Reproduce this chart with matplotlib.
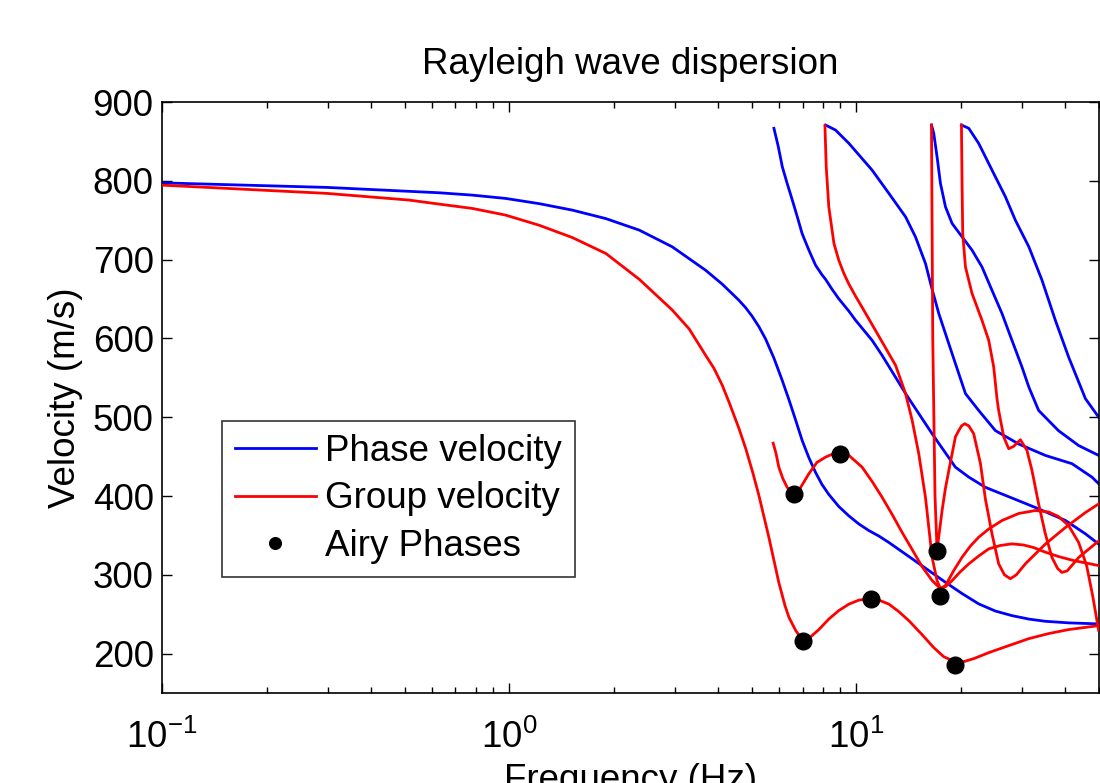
import matplotlib
matplotlib.use("Agg")
import matplotlib.pyplot as plt
from matplotlib.ticker import LogLocator, NullFormatter

plt.rcParams['font.family'] = ['Liberation Sans', 'DejaVu Sans']
plt.rcParams['mathtext.default'] = 'regular'

# ---- Phase velocity curves (Hz, m/s) ----
phase_f0 = [0.100, 0.299, 0.629, 0.784, 0.978, 1.22, 1.52, 1.90, 2.37, 2.95, 3.68, 4.11,
            4.59, 4.80, 5.01, 5.24, 5.48, 5.79, 6.12, 6.40, 6.69, 6.98, 7.30, 7.63, 7.96,
            8.33, 8.90, 9.52, 10.17, 10.86, 11.61, 12.41, 14.48, 18.06, 20.16, 22.51,
            25.15, 28.07, 31.4, 35.03, 40.87, 49.9]
phase_v0 = [797.4, 791.6, 784.8, 781.8, 777.6, 771, 762.8, 752, 737.4, 716.2, 686.5, 668.8,
            648.4, 638.9, 628.1, 614.9, 599.1, 574.9, 546.4, 521.8, 496, 470.6, 448.6, 429.9,
            414.7, 402, 386.7, 374.7, 364.5, 356.2, 349.2, 341.0, 320.3, 290.5, 276.2, 263.1,
            254.0, 248.2, 243.8, 241.0, 239.0, 237.7]

phase_f1 = [5.79, 5.96, 6.12, 6.32, 6.54, 6.76, 6.98, 7.30, 7.63, 7.96, 8.15, 8.51, 8.90,
            9.52, 9.95, 11.10, 11.86, 13.86, 16.53, 19.29, 21.08, 23.54, 29.35, 33.5, 40.0,
            45.7, 49.9]
phase_v1 = [866.6, 843.2, 817.8, 796.7, 775.5, 754.3, 733, 712, 692.9, 680.8, 675.1, 662.4,
            650.3, 634.5, 623, 597.6, 578.6, 530, 479, 436.6, 424, 411, 394, 383.7, 369,
            352, 339]

phase_f2 = [8.15, 8.71, 9.52, 11.10, 12.41, 13.86, 14.8, 15.82, 16.46, 17.28, 18.87, 20.62,
            22.51, 25.15, 29.35, 35.03, 41.8, 47.7, 49.9]
phase_v2 = [870.8, 864.4, 847.5, 813.6, 784, 754.3, 728.9, 695, 665.3, 631.5, 580.7, 530,
            508.6, 483, 466, 451.5, 441, 424, 415.6]

phase_f3 = [16.46, 16.71, 17.08, 17.47, 18.06, 18.87, 20.16, 21.54, 23.01, 24.59, 26.28,
            28.07, 30.0, 31.4, 33.5, 38.2, 43.7, 49.9]
phase_v3 = [870.8, 860.2, 830.5, 796.7, 767, 745.9, 728.9, 712, 690.7, 661, 631.5,
            597.6, 563.7, 538.2, 508.6, 483, 464, 451.5]

phase_f4 = [20.08, 21.08, 22.51, 24.59, 26.88, 28.71, 31.4, 34.25, 37.43, 40.87, 45.7, 49.9]
phase_v4 = [870.8, 866.6, 847.5, 813.6, 779.7, 750, 716.2, 674, 623, 576.4, 523.5, 500]

# ---- Group velocity curves (Hz, m/s) ----
group_f0 = [0.100, 0.299, 0.516, 0.629, 0.784, 0.978, 1.22, 1.52, 1.90, 2.37, 2.95, 3.30,
            3.68, 3.89, 4.11, 4.30, 4.59, 4.80, 5.03, 5.24, 5.60, 5.98, 6.23, 6.40, 6.69,
            7.02, 7.40, 7.80, 8.33, 8.90, 9.52, 10.17, 11.01, 11.61, 12.41, 13.25, 14.16,
            15.46, 16.71, 17.85, 19.2, 20.39, 21.78, 24.06, 27.47, 31.4, 35.8, 40.87, 49.9]
group_v0 = [794.5, 784, 775.5, 770.4, 764.9, 756.4, 743.6, 728, 707.7, 675, 636, 612,
            578.6, 562.0, 540.5, 518.9, 485.8, 460.4, 429.9, 400.7, 347.3, 290.2, 260.9, 245.7,
            229.2, 216.4, 221.6, 230.5, 243.8, 254.6, 262.8, 267.9, 269.8, 267.9, 262.8, 253.3,
            241.9, 224.1, 207.6, 196.1, 189.8, 189.8, 193.6, 201.2, 210.1, 219, 225.4, 230.5,
            235.5]

group_f1 = [5.76, 5.87, 5.98, 6.14, 6.32, 6.62, 6.83, 7.30, 7.70, 8.15, 8.50, 8.97, 9.52,
            10.39, 11.10, 11.86, 12.68, 13.55, 14.48, 15.46, 16.53, 17.47, 18.06, 18.87,
            19.94, 21.08, 22.51, 24.06, 26.0, 28.07, 30.34, 32.42, 34.64, 38.2, 42.25,
            46.68, 49.9]
group_v1 = [467, 454.1, 436.6, 422.3, 410.9, 402.9, 407.1, 428.3, 442.6, 449.3, 452.8, 453.7,
            451.5, 436.6, 418.5, 398.5, 376.6, 353.7, 332.1, 310.5, 292.7, 282.5, 284.9, 292.6,
            304, 313.9, 323.8, 332.9, 337.2, 339.3, 337.8, 334.6, 329.5, 323.2, 318.1,
            314.3, 311.7]

group_f2 = [8.12, 8.19, 8.33, 8.62, 8.90, 9.20, 9.52, 9.95, 10.51, 11.61, 12.97, 13.86,
            14.48, 15.13, 15.82, 16.17, 16.53, 17.08, 17.47, 18.06, 19.08, 20.16, 21.31,
            22.51, 24.06, 26.28, 29.35, 32.8, 35.8, 38.2, 40.87, 43.7, 46.06, 47.93, 49.9]
group_v2 = [870, 817.8, 767, 720.5, 699.3, 682.7, 668.8, 653.5, 635.7, 602.7, 565.9, 530,
            496, 453.6, 398, 360, 322, 292.6, 282.5, 286.4, 305.4, 322.3, 336.5,
            347.7, 358.1, 368.9, 377.8, 381.6, 379.7, 374.0, 362.5, 340.9, 311.7, 273.6, 229.2]

group_f3 = [16.46, 16.60, 16.85, 17.08, 17.66, 18.06, 18.46, 19.29, 19.72, 20.1, 20.52,
            21.08, 21.78, 22.78, 23.54, 24.59, 25.7, 26.7, 27.78, 28.9, 30.69, 35.03,
            40.0, 45.7, 49.9]
group_v3 = [870.8, 600, 400, 331, 381.6, 410, 432, 475, 483, 489, 491.7,
            489, 479, 441, 396, 352, 314, 300, 295, 300, 314, 339,
            360, 379, 390]

group_f4 = [20.08, 20.16, 20.25, 20.62, 21.54, 23.01, 24.06, 24.87, 25.42, 25.7, 26.58,
            27.47, 28.39, 29.69, 31.0, 32.06, 33.5, 35.03, 36.6, 38.0, 39.1, 40.5, 43.7, 49.9]
group_v4 = [870.8, 796.7, 733, 690.7, 657, 623, 597.6, 563.7, 523.5, 508.6, 475,
            460, 463, 471.4, 458, 432.4, 390, 352, 322, 308, 303, 305, 322, 343]

# ---- Airy phases ----
airy_f = [6.62, 8.97, 7.02, 11.0, 17.08, 17.47, 19.2]
airy_v = [402.8, 453.6, 216.4, 269.4, 330.8, 273.6, 186]

phase_f = [phase_f0, phase_f1, phase_f2, phase_f3, phase_f4]
phase_v = [phase_v0, phase_v1, phase_v2, phase_v3, phase_v4]
group_f = [group_f0, group_f1, group_f2, group_f3, group_f4]
group_v = [group_v0, group_v1, group_v2, group_v3, group_v4]

fig = plt.figure(figsize=(11.0, 7.83), dpi=100)
ax = fig.add_axes([162/1100, 1 - 693/783, (1099-162)/1100, (693-102)/783])

lw = 2.0
for i, (f, v) in enumerate(zip(phase_f, phase_v)):
    ax.plot(f, v, color='#0000ff', lw=lw, label='Phase velocity' if i == 0 else None,
            zorder=2, solid_joinstyle='round')
for i, (f, v) in enumerate(zip(group_f, group_v)):
    ax.plot(f, v, color='#ff0000', lw=lw, label='Group velocity' if i == 0 else None,
            zorder=3, solid_joinstyle='round')
ax.plot(airy_f, airy_v, 'o', color='black', ms=12, label='Airy Phases', zorder=4)

ax.set_xscale('log')
ax.set_xlim(0.1, 50)
ax.set_ylim(150, 900)
ax.set_yticks([200, 300, 400, 500, 600, 700, 800, 900])
ax.xaxis.set_major_locator(LogLocator(base=10, numticks=10))
ax.xaxis.set_minor_locator(LogLocator(base=10, subs=range(2, 10), numticks=20))
ax.xaxis.set_minor_formatter(NullFormatter())

fs = 26.5
ax.tick_params(axis='both', which='both', direction='in', top=True, right=True,
               labelsize=fs, width=1.0, colors='black')
ax.tick_params(axis='both', which='major', length=7)
ax.tick_params(axis='both', which='minor', length=4)
ax.tick_params(axis='x', which='major', pad=19)
ax.tick_params(axis='y', which='major', pad=6)
for s in ax.spines.values():
    s.set_linewidth(1.2)

ax.set_title('Rayleigh wave dispersion', fontsize=fs, pad=20)
ax.set_xlabel('Frequency (Hz)', fontsize=fs, labelpad=5)
ax.set_ylabel('Velocity (m/s)', fontsize=fs, labelpad=7)

leg = ax.legend(loc='lower left', bbox_to_anchor=(0.064, 0.196), borderaxespad=0,
                fontsize=fs, frameon=True, fancybox=False, edgecolor='black',
                handlelength=2.2, handletextpad=0.25, labelspacing=0.35,
                borderpad=0.35, markerscale=0.7)
leg.get_frame().set_linewidth(1.2)

fig.savefig('out.png', dpi=100)
